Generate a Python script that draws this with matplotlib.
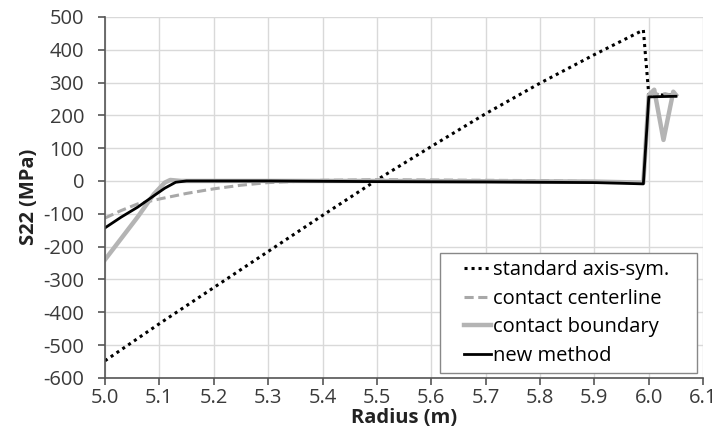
import matplotlib.pyplot as plt
from matplotlib.patches import Rectangle

plt.rcParams['font.family'] = ['Open Sans', 'DejaVu Sans']
plt.rcParams['axes.unicode_minus'] = False

# standard axis-symmetric
x_std = [5.0, 5.1, 5.2, 5.3, 5.4, 5.5, 5.6, 5.7, 5.8, 5.9, 5.99,
         6.0, 6.01, 6.02, 6.03, 6.04, 6.05]
y_std = [-548, -435, -325, -215, -105, 3, 105, 205, 298, 385, 460,
         262, 262, 262, 262, 262, 262]

# contact centerline
x_cl = [5.0, 5.03, 5.06, 5.1, 5.15, 5.2, 5.25, 5.3, 5.4, 5.5, 5.6, 5.7, 5.8, 5.9, 5.99,
        6.0, 6.01, 6.02, 6.03, 6.04, 6.05]
y_cl = [-113, -90, -70, -55, -38, -24, -13, -5, 2, 4, 3, 2, 1, -2, -5,
        262, 268, 262, 266, 262, 264]

# contact boundary
x_cb = [5.0, 5.03, 5.06, 5.09, 5.11, 5.12, 5.14, 5.2, 5.5, 5.9, 5.99,
        6.0, 6.01, 6.027, 6.045, 6.05]
y_cb = [-240, -175, -110, -40, -5, 3, 0, 0, 0, -2, -5,
        262, 278, 125, 272, 262]

# new method
x_nm = [5.0, 5.03, 5.06, 5.09, 5.11, 5.13, 5.15, 5.3, 5.5, 5.7, 5.9, 5.95, 5.99,
        6.0, 6.02, 6.05]
y_nm = [-143, -110, -80, -45, -22, -4, 0, 0, -2, -3, -5, -7, -9,
        256, 257, 258]

fig = plt.figure(figsize=(7.19, 4.44), dpi=100)
ax = fig.add_axes([0.146, 0.149, 0.832, 0.813])

ax.plot(x_std, y_std, color='black', linestyle=(0, (1, 1.3)), lw=2.2,
        label='standard axis-sym.')
ax.plot(x_cl, y_cl, color='#a8a8a8', linestyle=(0, (3, 1.5)), lw=2.2,
        label='contact centerline')
ax.plot(x_cb, y_cb, color='#b4b4b4', lw=3.2, label='contact boundary')
ax.plot(x_nm, y_nm, color='black', lw=2.0, label='new method')

ax.set_xlim(5.0, 6.1)
ax.set_ylim(-600, 500)
ax.set_xticks([5.0 + 0.1 * i for i in range(12)])
ax.set_xticklabels(['%.1f' % (5.0 + 0.1 * i) for i in range(12)])
ax.set_yticks(range(-600, 501, 100))

ax.grid(True, color='#d9d9d9', lw=1)
ax.set_axisbelow(True)
for s in ['top', 'right']:
    ax.spines[s].set_visible(False)
for s in ['left', 'bottom']:
    ax.spines[s].set_color('#555555')
    ax.spines[s].set_linewidth(1.2)

ax.tick_params(axis='both', labelsize=14.5, colors='#555555', labelcolor='#3a3a3a',
               length=5, width=1.2, direction='out')
ax.tick_params(axis='x', pad=2)
ax.tick_params(axis='y', pad=10)

ax.set_xlabel('Radius (m)', fontsize=14.5, fontweight='bold', color='#222222', labelpad=0)
ax.set_ylabel('S22 (MPa)', fontsize=14.5, fontweight='bold', color='#222222', labelpad=3)

# legend box drawn separately (Excel-like wide padding)
ax.add_patch(Rectangle((0.560, 0.014), 0.430, 0.332, transform=ax.transAxes,
                       facecolor='white', edgecolor='#888888', lw=1.0, zorder=4))
leg = ax.legend(loc='center left', fontsize=14.5, handlelength=1.35, handletextpad=0.1,
                labelspacing=0.42, frameon=False, borderpad=0, borderaxespad=0,
                bbox_to_anchor=(0.600, 0.180))
leg.set_zorder(5)

fig.savefig('out.png', dpi=100)
